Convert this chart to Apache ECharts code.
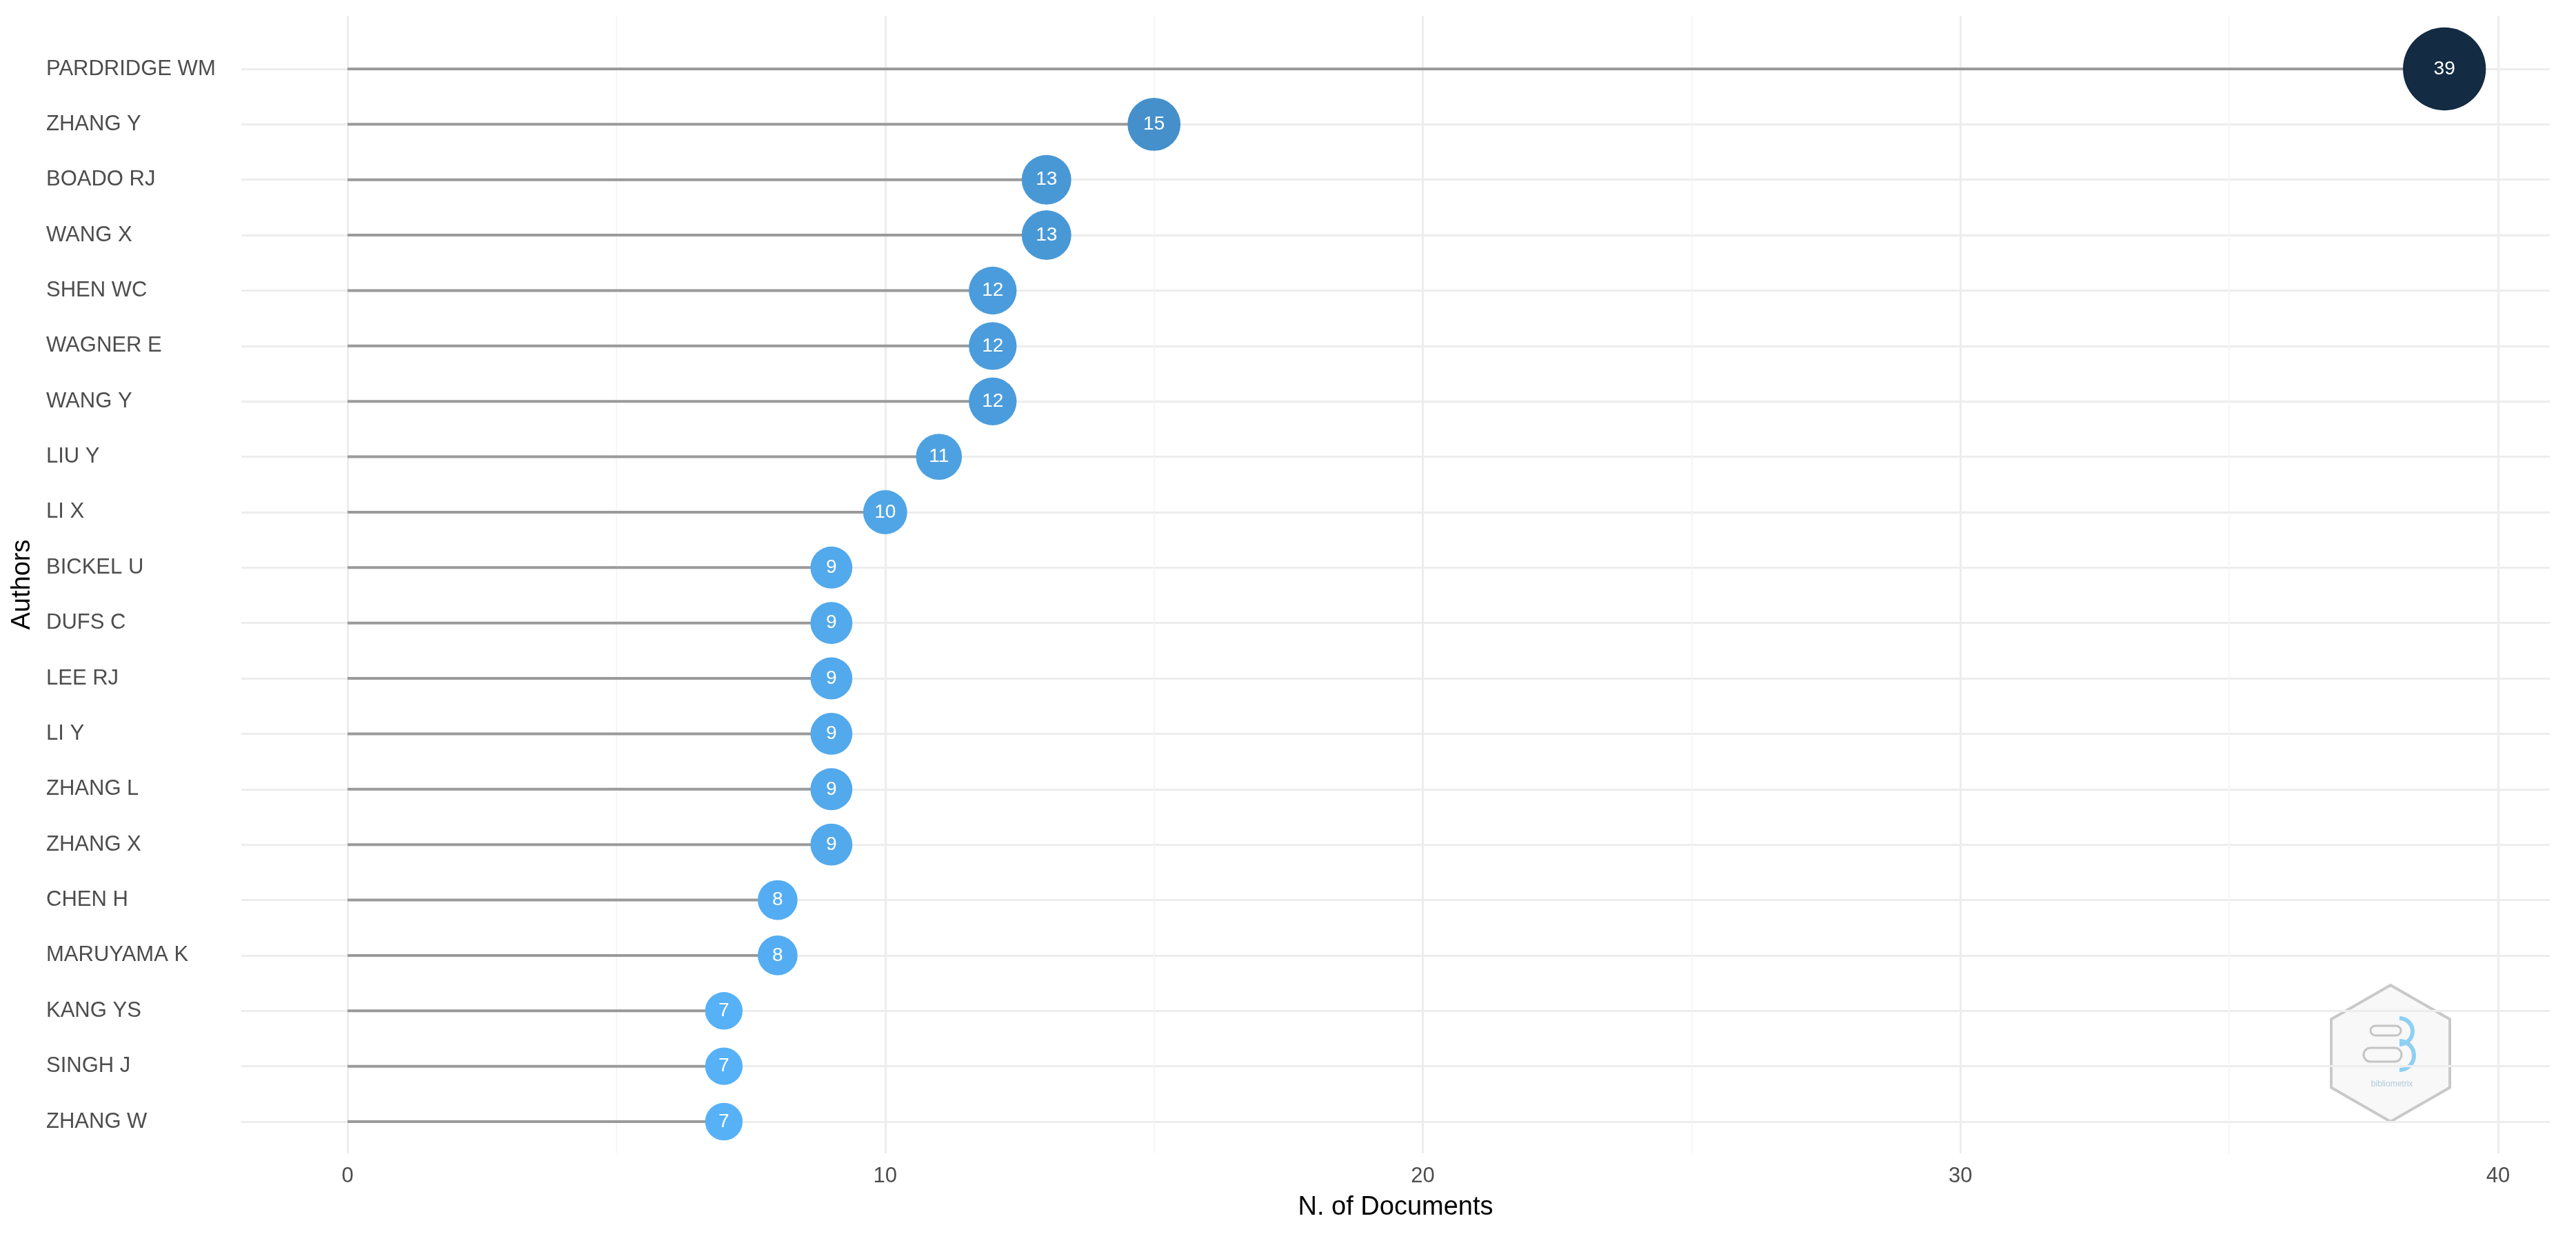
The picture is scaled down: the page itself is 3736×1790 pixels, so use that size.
<!DOCTYPE html>
<html>
<head>
<meta charset="utf-8">
<title>Most relevant authors</title>
<script src="https://cdn.jsdelivr.net/npm/echarts@6/dist/echarts.min.js"></script>
<style>
    html, body { margin: 0; padding: 0; background: #ffffff; }
    #chart { width: 3736px; height: 1790px; }
</style>
</head>
<body>
<div id="chart"></div>
<script>
// Authors, top to bottom
const authors = [
    'PARDRIDGE WM', 'ZHANG Y', 'BOADO RJ', 'WANG X', 'SHEN WC',
    'WAGNER E', 'WANG Y', 'LIU Y', 'LI X', 'BICKEL U',
    'DUFS C', 'LEE RJ', 'LI Y', 'ZHANG L', 'ZHANG X',
    'CHEN H', 'MARUYAMA K', 'KANG YS', 'SINGH J', 'ZHANG W'
];
// Number of documents per author
const docs = [39, 15, 13, 13, 12, 12, 12, 11, 10, 9, 9, 9, 9, 9, 9, 8, 8, 7, 7, 7];
// x axis ticks
const xTicks = [0, 10, 20, 30, 40];

const chart = echarts.init(document.getElementById('chart'), null, { renderer: 'canvas' });

const fontFamily = '"Liberation Sans", Arial, Helvetica, sans-serif';
const gridColor = '#EDEDED';

const option = {
    backgroundColor: '#ffffff',
    animation: false,
    textStyle: { fontFamily: fontFamily },
    grid: [
        // panel with the rows (data + horizontal grid lines)
        { left: 350, right: 38, top: 100, bottom: 163 },
        // panel for the x scale (vertical grid lines + tick labels)
        { left: 504, right: 113, top: 23, bottom: 117 }
    ],
    xAxis: [
        {
            gridIndex: 0,
            type: 'value',
            min: -1.975,
            max: 40.96,
            name: 'N. of Documents',
            nameLocation: 'middle',
            nameGap: 106,
            nameTextStyle: { fontSize: 38, color: '#000000' },
            axisLine: { show: false },
            axisTick: { show: false },
            axisLabel: { show: false },
            splitLine: { show: false }
        },
        {
            gridIndex: 1,
            type: 'value',
            min: xTicks[0],
            max: xTicks[xTicks.length - 1],
            interval: xTicks[1] - xTicks[0],
            axisLine: { show: false },
            axisTick: { show: false },
            axisLabel: { fontSize: 31, color: '#4D4D4D', margin: 18 },
            splitLine: { show: true, lineStyle: { color: gridColor, width: 3 } },
            minorTick: { show: false, splitNumber: 2 },
            minorSplitLine: { show: true, lineStyle: { color: '#F3F3F3', width: 1.5 } }
        }
    ],
    yAxis: [
        {
            gridIndex: 0,
            type: 'category',
            data: authors,
            inverse: true,
            boundaryGap: false,
            axisLine: { show: false },
            axisTick: { show: false },
            axisLabel: { fontSize: 31, color: '#4D4D4D', align: 'left', margin: 283 },
            splitLine: { show: true, lineStyle: { color: gridColor, width: 3 } }
        },
        {
            gridIndex: 1,
            type: 'value',
            min: 0,
            max: 1,
            name: 'Authors',
            nameLocation: 'middle',
            nameGap: 452,
            nameTextStyle: { fontSize: 38, color: '#000000' },
            axisLine: { show: false },
            axisTick: { show: false },
            axisLabel: { show: false },
            splitLine: { show: false }
        }
    ],
    visualMap: {
        type: 'continuous',
        show: false,
        seriesIndex: 1,
        dimension: 0,
        min: 7,
        max: 39,
        inRange: {
            color: ['#56B1F7', '#4590CB', '#336A98', '#234A6C', '#132B43']
        }
    },
    series: [
        {
            // stems
            type: 'bar',
            xAxisIndex: 0,
            yAxisIndex: 0,
            data: docs,
            barWidth: 4,
            itemStyle: { color: '#9A9A9A' },
            silent: true,
            z: 2
        },
        {
            type: 'scatter',
            xAxisIndex: 0,
            yAxisIndex: 0,
            data: authors.map((a, i) => [docs[i], a]),
            symbol: 'circle',
            symbolSize: function (val) {
                return 6 + 18.3 * Math.sqrt(val[0]);
            },
            itemStyle: { opacity: 1 },
            label: {
                show: true,
                position: 'inside',
                formatter: function (p) { return p.data[0]; },
                color: '#ffffff',
                fontSize: 28
            },
            emphasis: { disabled: true },
            silent: true,
            z: 3
        }
    ],
    graphic: [
        {
            // bibliometrix watermark
            type: 'group',
            x: 3467,
            y: 1528,
            z: 1,
            silent: true,
            children: [
                {
                    type: 'polygon',
                    shape: { points: [[0, -99], [86, -49.5], [86, 49.5], [0, 99], [-86, 49.5], [-86, -49.5]] },
                    style: { fill: '#F8F8F8', stroke: '#C9C9C9', lineWidth: 4 }
                },
                {
                    type: 'rect',
                    shape: { x: -29, y: -40, width: 44, height: 14, r: 7 },
                    style: { fill: 'none', stroke: '#C4C4C4', lineWidth: 3 }
                },
                {
                    type: 'rect',
                    shape: { x: -39, y: -8, width: 55, height: 20, r: 10 },
                    style: { fill: 'none', stroke: '#C4C4C4', lineWidth: 3 }
                },
                {
                    type: 'arc',
                    shape: { cx: 13, cy: -32, r: 19, startAngle: -Math.PI / 2, endAngle: Math.PI / 2 },
                    style: { fill: 'none', stroke: '#8FD0F2', lineWidth: 6 }
                },
                {
                    type: 'arc',
                    shape: { cx: 13, cy: 3, r: 21, startAngle: -Math.PI / 2, endAngle: Math.PI / 2 },
                    style: { fill: 'none', stroke: '#8FD0F2', lineWidth: 6 }
                },
                {
                    type: 'text',
                    x: 2,
                    y: 45,
                    style: {
                        text: 'bibliometrix',
                        fontSize: 12,
                        fill: '#AFCBDD',
                        align: 'center',
                        verticalAlign: 'middle',
                        fontFamily: fontFamily
                    }
                }
            ]
        }
    ]
};

chart.setOption(option);
window.addEventListener('resize', () => chart.resize());
</script>
</body>
</html>
